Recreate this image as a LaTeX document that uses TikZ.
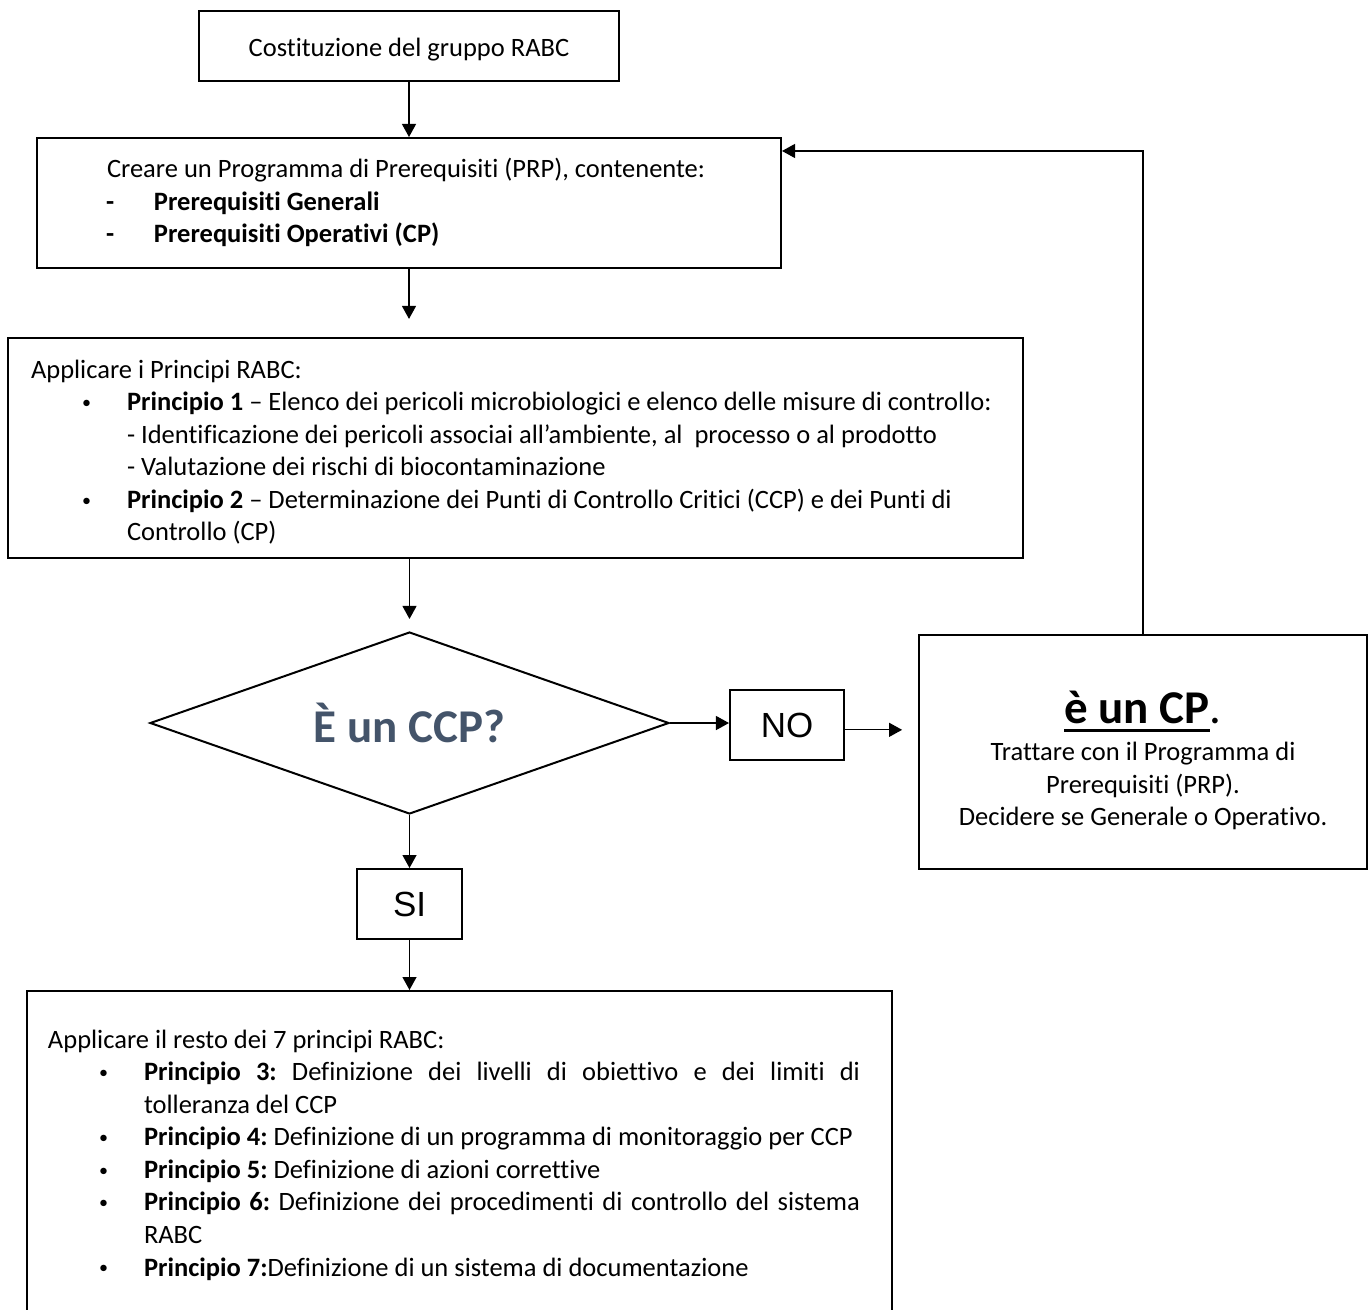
\documentclass[tikz,border=0pt]{standalone}
\usepackage{fontspec}
\setmainfont{Carlito}[Ligatures={TeX,NoCommon}]
\newfontfamily\arialfont{Liberation Sans}
\usepackage{xcolor}
\usetikzlibrary{arrows.meta, positioning, shapes.geometric}
\definecolor{domanda}{HTML}{44546A}
\newlength{\px}\setlength{\px}{0.415pt} % one pixel of the page
\newcommand{\riga}[1]{\par\noindent\hspace*{#1}}
\newcommand{\voce}[3]{\par\hangindent=#2\hangafter=1\noindent\makebox[#2][l]{\hspace*{#1}#3}}
\newcommand{\pallino}{\raisebox{0.9pt}{\fontsize{7.5pt}{7.5pt}\selectfont\textbullet}}
\newcommand{\sottolinea}[1]{\setbox0\hbox{#1}\rlap{\rule[-3.5pt]{\wd0}{1.2pt}}\box0}
\newcommand{\abandiera}{\leftskip=0pt\rightskip=0pt plus 1fil\parfillskip=0pt plus 1fil\spaceskip=0pt\xspaceskip=0pt\relax}
\newcommand{\fondo}[1]{\par\vspace{#1}\hrule height 0pt}
\hyphenpenalty=10000
\exhyphenpenalty=10000
\frenchspacing
\tikzset{
    box/.style={draw, rectangle, line width=2\px, inner sep=0pt, font=\fontsize{11pt}{13.5pt}\selectfont}, % every text box
    decision/.style={draw, diamond, aspect=2.85, line width=2\px, inner sep=0pt}, % the question
    answer/.style={draw, rectangle, line width=2\px, inner sep=0pt, minimum height=70\px, font=\arialfont\fontsize{14.5pt}{17pt}\selectfont}, % NO and SI
}
\tikzstyle{connector} = [line width=0.54pt, -{Triangle[length=5.4pt, width=5.8pt]}]

\begin{document}
\begin{tikzpicture}[x=0.415pt, y=-0.415pt]
    \useasboundingbox (0,0) rectangle (1371,1309);

    \node[box, minimum width=420\px, minimum height=70\px] (gruppo) at (409,46) {\rule{0pt}{10.3pt}Costituzione del gruppo RABC};
    \node[box, minimum width=744\px, minimum height=130\px, text width=744\px] (prp) at (409,203) {\abandiera
        \riga{70\px}Creare un Programma di Prerequisiti (PRP), contenente:%
        \voce{69\px}{117\px}{\textbf{-}}\textbf{Prerequisiti Generali}%
        \voce{69\px}{117\px}{\textbf{-}}\textbf{Prerequisiti Operativi (CP)}\fondo{14\px}};
    \node[box, minimum width=1015\px, minimum height=220\px, text width=1015\px] (principi) at (515.5,448) {\abandiera
        \riga{23\px}Applicare i Principi RABC:%
        \voce{74\px}{119\px}{\pallino}\textbf{Principio 1} – Elenco dei pericoli microbiologici e elenco delle misure di controllo:\newline
        - Identificazione dei pericoli associai all’ambiente, al\ \ processo o al prodotto\newline
        - Valutazione dei rischi di biocontaminazione%
        \voce{74\px}{119\px}{\pallino}\textbf{Principio 2} – Determinazione dei Punti di Controllo Critici (CCP) e dei Punti di\newline
        Controllo (CP)\fondo{6\px}};

    \node[decision, minimum width=519\px, minimum height=182\px] (ccp) at (409.5,723)
        {\fontsize{19.5pt}{24pt}\selectfont\bfseries\color{domanda}È un CCP?};
    \node[answer, minimum width=114\px] (no) at (787,725) {NO};
    \node[answer, minimum width=105\px] (si) at (409.5,904) {SI};

    \node[box, minimum width=448\px, minimum height=234\px, align=center] (cp) at (1143,752) {%
        {\fontsize{19.5pt}{24pt}\selectfont\rule{0pt}{20.5pt}\sottolinea{\bfseries è un CP}.}\\[2pt]
        Trattare con il Programma di\\
        Prerequisiti (PRP).\\
        Decidere se Generale o Operativo.};

    \node[box, minimum width=865\px, minimum height=324\px, text width=865\px] (resto) at (459.5,1153) {%
        \leftskip=0pt \rightskip=32\px \parfillskip=0pt plus 1fil \spaceskip=.226em plus .6em\relax
        \riga{21\px}Applicare il resto dei 7 principi RABC:%
        \voce{72\px}{117\px}{\pallino}\textbf{Principio 3:} Definizione dei livelli di obiettivo e dei limiti di tolleranza del CCP%
        \voce{72\px}{117\px}{\pallino}\textbf{Principio 4:} Definizione di un programma di monitoraggio per CCP%
        \voce{72\px}{117\px}{\pallino}\textbf{Principio 5:} Definizione di azioni correttive%
        \voce{72\px}{117\px}{\pallino}\textbf{Principio 6:} Definizione dei procedimenti di controllo del sistema RABC%
        \voce{72\px}{117\px}{\pallino}\textbf{Principio 7:}Definizione di un sistema di documentazione\fondo{10\px}};

    % connectors
    \draw[connector] (gruppo) -- (prp);
    \draw[connector, shorten >=7.5pt] (prp.south) -- (prp.south |- principi.north);
    \draw[connector, shorten >=5pt] (principi.south -| ccp.north) -- (ccp.north);
    \draw[connector] (ccp.east) -- (ccp.east -| no.west);
    \draw[connector, shorten >=6.6pt] ([yshift=-2pt]no.east) -- ([yshift=-2pt]no.east -| cp.west);
    \draw[connector] (ccp.south) -- (si.north);
    \draw[connector] (si.south) -- (si.south |- resto.north);
    \draw[connector] (cp.north) |- ([yshift=-5.8pt]prp.north east);
\end{tikzpicture}
\end{document}
